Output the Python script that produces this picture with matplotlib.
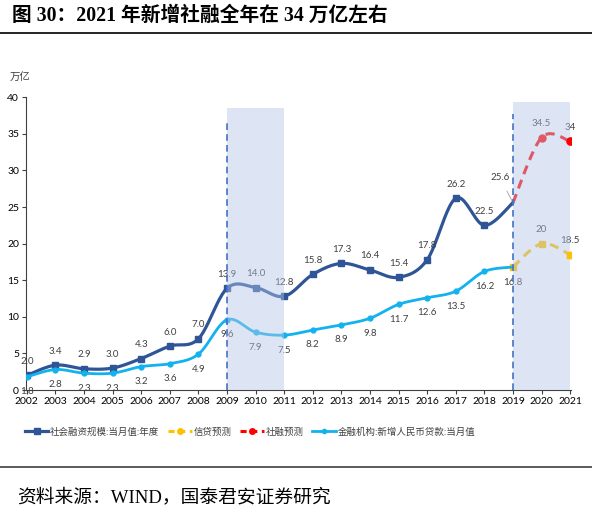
import numpy as np
import matplotlib
matplotlib.use("Agg")
import matplotlib.pyplot as plt
from matplotlib.lines import Line2D
from matplotlib.patches import Rectangle

# =========================
# Data
# =========================

years = list(range(2002, 2020))
tsf = [2.0, 3.4, 2.9, 3.0, 4.3, 6.0, 7.0, 13.9, 14.0, 12.8,
       15.8, 17.3, 16.4, 15.4, 17.8, 26.2, 22.5, 25.6]
loans = [1.8, 2.8, 2.3, 2.3, 3.2, 3.6, 4.9, 9.6, 7.9, 7.5,
         8.2, 8.9, 9.8, 11.7, 12.6, 13.5, 16.2, 16.8]

fc_years = [2019, 2020, 2021]
loan_fc = [16.8, 20, 18.5]
tsf_fc = [25.6, 34.5, 34]

tsf_labels = ["2.0", "3.4", "2.9", "3.0", "4.3", "6.0", "7.0", "13.9", "14.0", "12.8",
              "15.8", "17.3", "16.4", "15.4", "17.8", "26.2", "22.5", "25.6"]
loan_labels = ["1.8", "2.8", "2.3", "2.3", "3.2", "3.6", "4.9", "9.6", "7.9", "7.5",
               "8.2", "8.9", "9.8", "11.7", "12.6", "13.5", "16.2", "16.8"]
loan_fc_labels = ["", "20", "18.5"]
tsf_fc_labels = ["", "34.5", "34"]

legend_labels = ["社会融资规模:当月值:年度", "信贷预测", "社融预测",
                 "金融机构:新增人民币贷款:当月值"]

# =========================
# Style
# =========================

plt.rcParams['font.family'] = ['Lato', 'Noto Sans CJK SC', 'DejaVu Sans']

DARK = "#2f5597"
LIGHT = "#12b2ee"
RED = "#ff0000"
YELLOW = "#ffc000"
TXT = "#404040"
SERIF = ['Liberation Serif', 'Noto Sans CJK SC']


def smooth(x, y, n=24):
    # excel-like smoothed line (catmull-rom bezier)
    x = np.asarray(x, float)
    y = np.asarray(y, float)
    px = np.concatenate([[x[0]], x, [x[-1]]])
    py = np.concatenate([[y[0]], y, [y[-1]]])
    ox, oy = [x[0]], [y[0]]
    t = np.linspace(0, 1, n)[1:]
    for i in range(len(x) - 1):
        p0 = np.array([px[i], py[i]])
        p1 = np.array([px[i + 1], py[i + 1]])
        p2 = np.array([px[i + 2], py[i + 2]])
        p3 = np.array([px[i + 3], py[i + 3]])
        c1 = p1 + (p2 - p0) / 6
        c2 = p2 - (p3 - p1) / 6
        b = ((1 - t) ** 3)[:, None] * p1 + (3 * (1 - t) ** 2 * t)[:, None] * c1 \
            + (3 * (1 - t) * t ** 2)[:, None] * c2 + (t ** 3)[:, None] * p2
        ox.extend(b[:, 0])
        oy.extend(b[:, 1])
    return np.array(ox), np.array(oy)


# =========================
# Figure
# =========================

fig = plt.figure(figsize=(5.92, 5.15), dpi=100)
ax = fig.add_axes([26 / 592, 1 - 390 / 515, 545 / 592, 292.7 / 515])

# shaded periods
ax.add_patch(Rectangle((2009, 0), 2, 38.6, facecolor="#b4c6e7", alpha=0.45,
                       edgecolor="none", zorder=5))
ax.add_patch(Rectangle((2019, 0), 2, 39.3, facecolor="#b4c6e7", alpha=0.45,
                       edgecolor="none", zorder=5))
ax.plot([2009, 2009], [0, 36.5], color="#4472c4", lw=1.2, ls=(0, (4, 2.5)), zorder=6)
ax.plot([2019, 2019], [0, 37.7], color="#4472c4", lw=1.2, ls=(0, (4, 2.5)), zorder=6)

# lines
sx, sy = smooth(fc_years, tsf_fc)
ax.plot(sx, sy, color=RED, lw=2.2, ls=(0, (3, 2)), zorder=3)
ax.plot(fc_years[1:], tsf_fc[1:], ls="none", marker="o", ms=5, color=RED, zorder=3)
ax.plot(fc_years[-1:], tsf_fc[-1:], ls="none", marker="o", ms=5, color=RED, zorder=7)

sx, sy = smooth(fc_years, loan_fc)
ax.plot(sx, sy, color=YELLOW, lw=2.2, ls=(0, (3, 2)), zorder=3)
ax.plot(fc_years, loan_fc, ls="none", marker="s", ms=5, color=YELLOW, zorder=3)
ax.plot(fc_years[-1:], loan_fc[-1:], ls="none", marker="s", ms=5, color=YELLOW, zorder=7)

sx, sy = smooth(years, tsf)
ax.plot(sx, sy, color=DARK, lw=2.3, zorder=3, solid_capstyle="round")
ax.plot(years[:-1], tsf[:-1], ls="none", marker="s", ms=5, color=DARK, zorder=3)

sx, sy = smooth(years, loans)
ax.plot(sx, sy, color=LIGHT, lw=2.0, zorder=3, solid_capstyle="round")
ax.plot(years[:-1], loans[:-1], ls="none", marker="o", ms=3.5, color=LIGHT, zorder=3)

# =========================
# Data labels
# =========================

for x, y, s in zip(years, tsf, tsf_labels):
    if s == "25.6":
        ax.annotate(s, (x, y), xytext=(-13, 25), textcoords="offset pixels",
                    ha="center", va="center", fontsize=7, color=TXT, zorder=4,
                    arrowprops=dict(arrowstyle="-", color="#a0a0a0", lw=0.6,
                                    shrinkA=5, shrinkB=1))
    else:
        ax.annotate(s, (x, y), xytext=(0, 14), textcoords="offset pixels",
                    ha="center", va="center", fontsize=7, color=TXT, zorder=4)

for x, y, s in zip(years, loans, loan_labels):
    ax.annotate(s, (x, y), xytext=(0, -15), textcoords="offset pixels",
                ha="center", va="center", fontsize=7, color=TXT, zorder=4)

for x, y, s in zip(fc_years, tsf_fc, tsf_fc_labels):
    ax.annotate(s, (x, y), xytext=(0, 14), textcoords="offset pixels",
                ha="center", va="center", fontsize=7, color=TXT, zorder=4)

for x, y, s in zip(fc_years, loan_fc, loan_fc_labels):
    ax.annotate(s, (x, y), xytext=(0, 14), textcoords="offset pixels",
                ha="center", va="center", fontsize=7, color=TXT, zorder=4)

# =========================
# Axes
# =========================

ax.set_xlim(2001.97, 2021.03)
ax.set_ylim(0, 40)
ax.set_xticks(range(2002, 2022))
ax.set_yticks(range(0, 41, 5))
ax.tick_params(axis="both", labelsize=7.5, colors="#404040", labelcolor="black",
               length=3, width=0.8, direction="out", pad=2)
ax.spines["top"].set_visible(False)
ax.spines["right"].set_visible(False)
for sp in ["left", "bottom"]:
    ax.spines[sp].set_color("#404040")
    ax.spines[sp].set_linewidth(0.8)

fig.text(10 / 592, 1 - 77 / 515, "万亿", fontsize=7.5, color=TXT, va="center")

# =========================
# Legend
# =========================

handles = [
    Line2D([], [], color=DARK, lw=2.3, marker="s", ms=4),
    Line2D([], [], color=YELLOW, lw=2.2, ls=(0, (2, 1.5)), marker="o", ms=4),
    Line2D([], [], color=RED, lw=2.2, ls=(0, (2, 1.5)), marker="o", ms=4),
    Line2D([], [], color=LIGHT, lw=2.0, marker="o", ms=3),
]
fig.legend(handles, legend_labels, loc="center", bbox_to_anchor=(250 / 592, 1 - 432 / 515),
           ncol=4, frameon=False, fontsize=6.8, handlelength=2.5, handletextpad=0.2,
           columnspacing=0.9, labelcolor=TXT)

# =========================
# Title / source
# =========================

fig.text(12 / 592, 1 - 16 / 515, "图 30：2021 年新增社融全年在 34 万亿左右",
         family=SERIF, fontsize=14.2, weight="bold", va="center", ha="left")
fig.add_artist(Line2D([0, 1], [1 - 33 / 515] * 2, transform=fig.transFigure,
                      color="black", lw=1.2))
fig.add_artist(Line2D([0, 1], [1 - 467 / 515] * 2, transform=fig.transFigure,
                      color="#404040", lw=1.2))
fig.text(17 / 592, 1 - 497 / 515, "资料来源：WIND，国泰君安证券研究",
         family=SERIF, fontsize=13.5, va="center", ha="left")

fig.savefig("out.png", dpi=100)
